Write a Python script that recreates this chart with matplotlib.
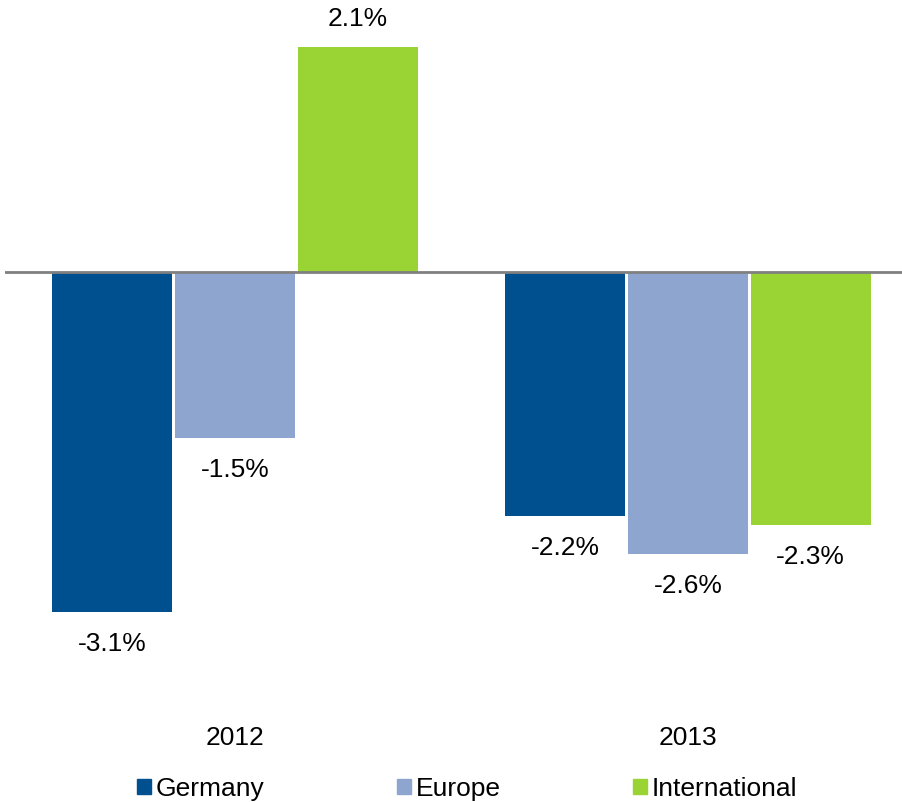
import matplotlib
matplotlib.use("Agg")
import matplotlib.pyplot as plt
from matplotlib.patches import Patch
import numpy as np

years = ["2012", "2013"]
series = ["Germany", "Europe", "International"]
germany = [-3.09, -2.22]
europe = [-1.51, -2.56]
international = [2.05, -2.30]
germany_labels = ["-3.1%", "-2.2%"]
europe_labels = ["-1.5%", "-2.6%"]
international_labels = ["2.1%", "-2.3%"]
colors = ["#00508F", "#8EA5CF", "#9AD334"]

plt.rcParams["font.family"] = ["Liberation Sans", "DejaVu Sans"]

fig = plt.figure(figsize=(9.03, 8.02), dpi=100)
ax = fig.add_axes([5 / 903, 102 / 802, 898 / 903, 700 / 802])

x = np.arange(len(years))
width = 0.265
offsets = [-0.271, 0, 0.271]
values = [germany, europe, international]
labels = [germany_labels, europe_labels, international_labels]

for vals, labs, off, col in zip(values, labels, offsets, colors):
    bars = ax.bar(x + off, vals, width, color=col, zorder=2)
    for b, v, lab in zip(bars, vals, labs):
        dy = 20 if v >= 0 else -23
        ax.annotate(lab, (b.get_x() + b.get_width() / 2, v),
                    xytext=(0, dy), textcoords="offset points",
                    ha="center", va="center", fontsize=19)

ax.axhline(0, color="#808080", lw=2, zorder=3)

ax.set_xlim(-0.508, 1.475)
ax.set_ylim(-428 / 110, 272 / 110)
ax.set_xticks(x)
ax.set_xticklabels(years, fontsize=19)
ax.tick_params(axis="x", length=0, pad=19)
ax.set_yticks([])
for s in ax.spines.values():
    s.set_visible(False)

handles = [Patch(color=c, label=s) for c, s in zip(colors, series)]
fig.legend(handles=handles, loc="center left",
           bbox_to_anchor=(137 / 903, 1 - 789 / 802),
           ncol=3, frameon=False, fontsize=19, borderpad=0, borderaxespad=0,
           handlelength=0.53, handleheight=0.53,
           handletextpad=0.19, columnspacing=5.0)

fig.savefig("out.png", dpi=100)
